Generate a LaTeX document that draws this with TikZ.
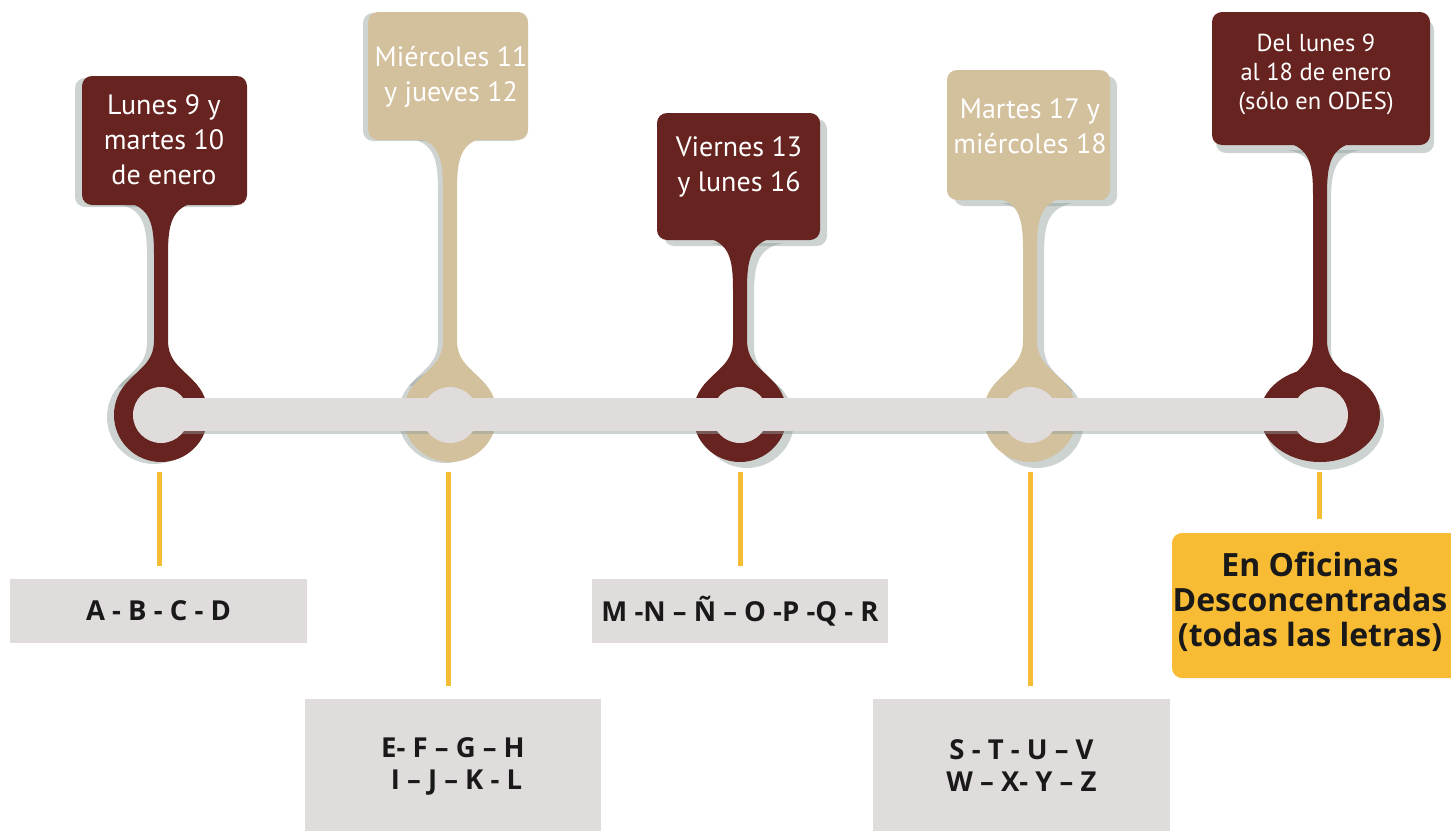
\documentclass[tikz,border=0pt]{standalone}
\usepackage{fontspec}
\setmainfont{PT Sans}
\newfontfamily\osans{Open Sans}
\definecolor{maroon}{HTML}{66231F}
\definecolor{tanc}{HTML}{D3C09D}
\definecolor{lgray}{HTML}{E0DCDB}
\definecolor{ylw}{HTML}{F6BC33}
\definecolor{ybox}{HTML}{F8BB34}
\definecolor{shad}{HTML}{8E9E9A}
\newcommand\pinshape[7]{% xc, bl, br, bt, bb, ry, rx
  \fill[rounded corners=10pt] (#2,#4) rectangle (#3,#5);
  \fill (#1-36,#5-3) .. controls (#1-10,#5+2) and (#1-7,#5+20) .. (#1-7,#5+50)
     -- (#1-7,#6-75) .. controls (#1-7,#6-52) and (#1-22,#6-47) .. (#1-36,#6-30)
     -- (#1+36,#6-30) .. controls (#1+22,#6-47) and (#1+7,#6-52) .. (#1+7,#6-75)
     -- (#1+7,#5+50) .. controls (#1+7,#5+20) and (#1+10,#5+2) .. (#1+36,#5-3) -- cycle;
  \fill (#1,#6) ellipse [x radius=#7pt, y radius=47pt];
}
\begin{document}
\begin{tikzpicture}[x=1pt,y=-1pt,
  ptxt/.style={text=white, align=center, font=\fontsize{28}{35}\selectfont, inner sep=0pt},
  ptxts/.style={text=white, align=center, font=\fontsize{24.5}{29}\selectfont, inner sep=0pt},
  lbox/.style={fill=lgray, inner sep=0pt, align=center, font=\osans\bfseries\fontsize{27.5}{32}\selectfont, text=black!90},
  ylink/.style={draw=ylw, line width=5pt},
  shadowsc/.style={fill=shad, opacity=0.45}]
\useasboundingbox (0,0) rectangle (1451,830);
\clip (0,0) rectangle (1451,830);
% shadows
\begin{scope}[shadowsc, shift={(-7,2)}]
  \pinshape{161}{82}{247}{76}{205}{415}{47}
\end{scope}
\begin{scope}[shadowsc, shift={(-5,1)}]
  \pinshape{450}{368}{528}{12}{140}{415}{47}
\end{scope}
\begin{scope}[shadowsc, shift={(7,6)}]
  \pinshape{740}{657}{820}{113}{240}{415}{47}
  \pinshape{1030}{947}{1110}{70}{200}{415}{47}
\end{scope}
\begin{scope}[shadowsc, shift={(4,8)}]
  \pinshape{1320}{1212}{1430}{12}{145}{415}{60}
\end{scope}
% pins
\begin{scope}[fill=maroon]
  \pinshape{161}{82}{247}{76}{205}{415}{47}
  \pinshape{740}{657}{820}{113}{240}{415}{47}
  \pinshape{1320}{1212}{1430}{12}{145}{415}{60}
\end{scope}
\begin{scope}[fill=tanc]
  \pinshape{450}{368}{528}{12}{140}{415}{47}
  \pinshape{1030}{947}{1110}{70}{200}{415}{47}
\end{scope}
% bar
\fill[shad, opacity=0.45] (161,431) rectangle (1320,434);
\fill[lgray] (161,398) rectangle (1320,431);
\foreach \x/\n in {161/c1,450/c2,740/c3,1030/c4,1320/c5}{
  \fill[lgray] (\x,415) circle[radius=28pt];
  \coordinate (\n) at (\x,472);
}
% pin texts
\node[ptxt] (t1) at (164,140) {Lunes 9 y\\martes 10\\de enero};
\node[ptxt] (t2) at (451,77) {Miércoles 11\\y jueves 12};
\node[ptxt] (t3) at (739,167) {Viernes 13\\y lunes 16};
\node[ptxt] (t4) at (1030,126) {Martes 17 y\\miércoles 18};
\node[ptxts] (t5) at (1316,74) {Del lunes 9\\al 18 de enero\\(sólo en ODES)};
% bottom boxes
\node[lbox, minimum width=297pt, minimum height=64pt] (b1) at (158.5,610.5) {A - B - C - D};
\node[lbox, minimum width=296pt, minimum height=64pt] (b3) at (740,611) {M -N – Ñ – O -P -Q - R};
\node[lbox, minimum width=296pt, minimum height=134pt] (b2) at (453,766) {E- F – G – H\\\ I – J – K - L};
\node[lbox, minimum width=297pt, minimum height=134pt] (b4) at (1021.5,766) {S - T - U – V\\W – X- Y – Z};
\fill[ybox, rounded corners=10pt] (1172,533) rectangle (1470,678);
\node[inner sep=0pt, align=center, font=\osans\bfseries\fontsize{32}{35}\selectfont, text=black!90] (b5) at (1310,602) {En Oficinas\\Desconcentradas\\(todas las letras)};
% links
\coordinate (e1) at (159,566);
\coordinate (e2) at (448,686);
\coordinate (e3) at (740,566);
\coordinate (e4) at (1030,686);
\coordinate (e5) at (1319,519);
\draw[ylink] (c1 -| e1) -- (e1);
\draw[ylink] (c2 -| e2) -- (e2);
\draw[ylink] (c3 -| e3) -- (e3);
\draw[ylink] (c4 -| e4) -- (e4);
\draw[ylink] (c5 -| e5) -- (e5);
\end{tikzpicture}
\end{document}
